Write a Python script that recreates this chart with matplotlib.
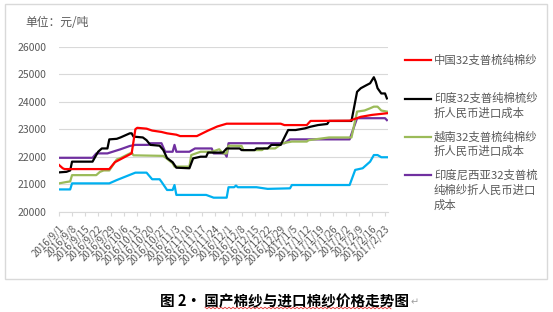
import matplotlib
matplotlib.use('Agg')
import matplotlib.pyplot as plt
import matplotlib.transforms as mtransforms
from matplotlib.patches import Rectangle
from matplotlib.lines import Line2D
import numpy as np
import pandas as pd

plt.rcParams['font.family'] = ['Noto Sans CJK SC', 'DejaVu Sans']


def d(s):
    # 'm/d' -> date in the 2016/9 .. 2017/2 season
    m = int(s.split('/')[0])
    return pd.Timestamp(('2016/' if m >= 9 else '2017/') + s)


# ---- data (yuan / ton) ----
china_dates = ['9/1', '9/3', '9/4', '9/28', '10/1', '10/10', '10/12', '10/13', '10/18', '10/21',
               '10/26', '10/29', '11/3', '11/5', '11/14', '11/20', '11/25', '11/30', '12/29',
               '12/31', '1/12', '1/14', '2/4', '2/10', '2/16', '2/24']
china_vals = [21700, 21580, 21550, 21550, 21800, 22120, 23000, 23050, 23020, 22950,
              22900, 22850, 22800, 22750, 22750, 22950, 23100, 23200, 23200,
              23150, 23150, 23300, 23310, 23450, 23520, 23580]

india_dates = ['9/1', '9/5', '9/7', '9/8', '9/19', '9/22', '9/24', '9/27', '9/28', '10/2', '10/4',
               '10/9', '10/10', '10/11', '10/16', '10/18', '10/20', '10/25', '10/27', '10/29',
               '11/1', '11/3', '11/10', '11/12', '11/16', '11/19', '11/20', '11/28', '11/30',
               '12/7', '12/8', '12/15', '12/16', '12/22', '12/24', '12/29', '1/2', '1/6', '1/11',
               '1/14', '1/18', '1/23', '1/24', '2/5', '2/8', '2/10', '2/13', '2/15', '2/17',
               '2/18', '2/19', '2/21', '2/23', '2/24']
india_vals = [21430, 21450, 21500, 21820, 21820, 22180, 22300, 22300, 22630, 22650, 22700,
              22850, 22850, 22730, 22700, 22600, 22430, 22400, 22240, 21950,
              21800, 21600, 21580, 21940, 22000, 22000, 22150, 22150, 22300,
              22300, 22240, 22240, 22300, 22300, 22430, 22430, 22970, 22970, 23030,
              23090, 23150, 23190, 23300, 23300, 24360, 24490, 24600, 24670, 24890,
              24730, 24490, 24300, 24300, 24120]

vietnam_dates = ['9/1', '9/5', '9/7', '9/8', '9/21', '9/23', '9/25', '9/28', '10/2', '10/4',
                 '10/9', '10/10', '10/11', '10/27', '11/1', '11/2', '11/10', '11/11', '11/16',
                 '11/22', '11/26', '11/28', '11/30', '12/1', '12/8', '12/9', '12/19', '12/20',
                 '12/26', '12/30', '1/4', '1/12', '1/13', '1/24', '2/5', '2/8', '2/12', '2/15',
                 '2/17', '2/19', '2/21', '2/24']
vietnam_vals = [21030, 21080, 21100, 21330, 21330, 21450, 21500, 21500, 21900, 21950,
                22120, 22150, 22050, 22030, 21760, 21640, 21640, 22060, 22180,
                22180, 22270, 22120, 22120, 22400, 22390, 22240, 22240, 22300,
                22300, 22490, 22550, 22550, 22600, 22700, 22700, 23640, 23680, 23760,
                23820, 23820, 23680, 23640]

indonesia_dates = ['9/1', '9/19', '9/21', '9/27', '10/4', '10/9', '10/12', '10/19', '10/20',
                   '10/26', '10/28', '11/1', '11/2', '11/3', '11/10', '11/13', '11/22', '11/23',
                   '11/29', '11/30', '12/1', '12/31', '1/3', '2/4', '2/8', '2/23', '2/24']
indonesia_vals = [21960, 21960, 22120, 22120, 22270, 22390, 22430, 22430, 22490,
                  22490, 22180, 22180, 22430, 22180, 22180, 22300, 22300, 22120,
                  22120, 22000, 22490, 22490, 22630, 22630, 23400, 23400, 23330]

other_dates = ['9/1', '9/7', '9/8', '9/28', '10/2', '10/12', '10/18', '10/21', '10/25', '10/26',
               '10/29', '11/1', '11/2', '11/3', '11/19', '11/23', '11/30', '12/1', '12/4',
               '12/5', '12/6', '12/16', '12/22', '1/3', '1/4', '2/4', '2/7', '2/11', '2/15',
               '2/17', '2/19', '2/21', '2/24']
other_vals = [20810, 20810, 21030, 21030, 21150, 21420, 21420, 21180, 21180, 21090,
              20790, 20790, 20970, 20610, 20610, 20510, 20510, 20890, 20890,
              20950, 20890, 20890, 20830, 20850, 20970, 20970, 21520, 21580, 21820,
              22060, 22060, 21980, 21980]

tick_labels = ['2016/9/1', '2016/9/8', '2016/9/15', '2016/9/22', '2016/9/29', '2016/10/6',
               '2016/10/13', '2016/10/20', '2016/10/27', '2016/11/3', '2016/11/10',
               '2016/11/17', '2016/11/24', '2016/12/1', '2016/12/8', '2016/12/15',
               '2016/12/22', '2016/12/29', '2017/1/5', '2017/1/12', '2017/1/19',
               '2017/1/26', '2017/2/2', '2017/2/9', '2017/2/16', '2017/2/23']
y_ticks = [20000, 21000, 22000, 23000, 24000, 25000, 26000]

series = [
    (china_dates, china_vals, '#FF0000', ['中国32支普梳纯棉纱']),
    (india_dates, india_vals, '#000000', ['印度32支普纯棉梳纱', '折人民币进口成本']),
    (vietnam_dates, vietnam_vals, '#9BBB59', ['越南32支普梳纯棉纱', '折人民币进口成本']),
    (indonesia_dates, indonesia_vals, '#7030A0', ['印度尼西亚32支普梳', '纯棉纱折人民币进口', '成本']),
    (other_dates, other_vals, '#00B0F0', None),
]

W, H = 553, 312
fig = plt.figure(figsize=(W / 100, H / 100), dpi=100)
ax = fig.add_axes([59 / W, 1 - 211.7 / H, (388 - 59) / W, (211.7 - 46.7) / H])

# cyan first so it sits under the others, red last
for dates, vals, col, _ in reversed(series):
    ax.plot([d(s) for s in dates], vals, color=col, lw=1.6, solid_joinstyle='round')

start = pd.Timestamp('2016-09-01')
ax.set_xlim(start, start + pd.Timedelta(days=176.6))
ax.set_ylim(20000, 26000)

ax.set_yticks(y_ticks)
ax.set_yticklabels([str(v) for v in y_ticks], fontsize=7.5, color='#595959')
ax.tick_params(axis='y', length=0, pad=9)
ax.grid(axis='y', color='#D9D9D9', lw=0.8)
ax.set_axisbelow(True)

ax.set_xticks([pd.Timestamp(t) for t in tick_labels])
ax.set_xticklabels(tick_labels, fontsize=7, color='#595959', rotation=45,
                   ha='right', va='center', rotation_mode='anchor')
ax.tick_params(axis='x', length=3, color='#D9D9D9', pad=8)
shift = mtransforms.ScaledTranslation(3 / 100, 0, fig.dpi_scale_trans)
for lab in ax.get_xticklabels():
    lab.set_transform(lab.get_transform() + shift)

for sp in ['top', 'right', 'left']:
    ax.spines[sp].set_visible(False)
ax.spines['bottom'].set_color('#D9D9D9')

fig.text(25 / W, 1 - 22 / H, '单位：元/吨', fontsize=8.5, color='#595959', va='center')

# legend, drawn by hand on the right
leg_y = [60, 98.5, 136.7, 175]
for (dates, vals, col, lab), y0 in zip(series, leg_y):
    if lab is None:
        continue
    fig.add_artist(Line2D([405 / W, 431 / W], [1 - y0 / H] * 2, color=col, lw=1.6,
                          transform=fig.transFigure))
    for i, line in enumerate(lab):
        fig.text(434 / W, 1 - (y0 + i * 15) / H, line, fontsize=8.2, color='#595959', va='center')

# frame round the chart
fig.add_artist(Rectangle((5 / W, 1 - 279 / H), 542 / W, 275 / H, transform=fig.transFigure,
                         fill=False, ec='#D9D9D9', lw=1))

cap = fig.text(160 / W, 1 - 301.5 / H, '图 2· 国产棉纱与进口棉纱价格走势图', fontsize=10.5,
               weight='bold', color='black', va='center')
fig.text(1, 0.5, '↵', fontsize=7, color='#A0A0A0', va='center', ha='left',
         transform=mtransforms.offset_copy(cap.get_transform(), fig=fig, x=0, y=0))
# word's red spell-check squiggle under the caption
zx = np.arange(205, 392, 2.0)
zy = 308 + np.where(np.arange(len(zx)) % 2 == 0, -0.8, 0.8)
fig.add_artist(Line2D(zx / W, 1 - zy / H, color='#E03030', lw=0.6, transform=fig.transFigure))

fig.canvas.draw()
bb = cap.get_window_extent()
fig.texts[-1].set_transform(fig.transFigure)
fig.texts[-1].set_position(((bb.x1 + 2) / (W), (bb.y0 + bb.y1) / 2 / H - 0.002))

fig.savefig('out.png', dpi=100)
